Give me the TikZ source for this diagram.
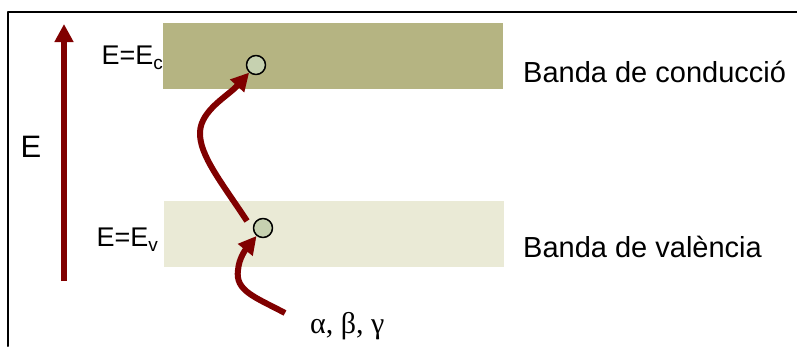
\documentclass[tikz,border=0pt]{standalone}
\usepackage{fontspec}
\setmainfont{Liberation Sans}
\newfontfamily\grecfont{Liberation Serif}
\usetikzlibrary{arrows.meta}
\definecolor{bandac}{RGB}{181,180,130}
\definecolor{bandav}{RGB}{234,234,214}
\definecolor{fletxa}{RGB}{128,0,0}
\definecolor{electro}{RGB}{198,209,176}
\begin{document}
\begin{tikzpicture}[x=1pt, y=-1pt, line cap=round, line join=round,
        banda/.style={draw=none, inner sep=0pt, minimum width=340pt, minimum height=66pt},
        electro/.style={circle, draw=black, line width=1.5pt, fill=electro, inner sep=0pt, minimum size=19pt},
        fletxa/.style={draw=fletxa, line width=6pt, line cap=butt, -{Triangle[length=18pt, width=18pt]}},
        etiq/.style={inner sep=0pt, font=\fontsize{29}{32}\selectfont}]
        \useasboundingbox (0,0) rectangle (797,346);

        % Cornice (solo lato superiore e sinistro)
        \draw[line width=2pt] (797,12) -- (8,12) -- (8,346);

        % Bande di energia
        \node[banda, fill=bandac] (bc) at (333,56) {};
        \node[banda, fill=bandav] (bv) at (334,233.5) {};

        % Asse dell'energia
        \coordinate (ebase) at (64,281);
        \coordinate (ecim) at (64,24);
        \draw[fletxa] (ebase) -- (ecim);
        \node[inner sep=0pt, font=\fontsize{31}{34}\selectfont] (elab) at (31,147) {E};

        % Etichette dei livelli
        \node[inner sep=0pt, anchor=base east, font=\fontsize{27}{29}\selectfont] (ec) at (163,64)
            {E=E\raisebox{-5pt}{\fontsize{19}{20}\selectfont c}};
        \node[inner sep=0pt, anchor=base east, font=\fontsize{27}{29}\selectfont] (ev) at (158,246)
            {E=E\raisebox{-5pt}{\fontsize{19}{20}\selectfont v}};
        \node[etiq, anchor=base west] (lc) at (523,82) {Banda de conducció};
        \node[etiq, anchor=base west] (lv) at (523,257) {Banda de valència};

        % Elettroni
        \node[electro] (cc) at (256,65) {};
        \node[electro] (cv) at (263,228) {};

        % Salto e radiazione incidente
        \coordinate (salt) at (247,221);
        \coordinate (raig) at (285,313);
        \draw[fletxa] (salt) .. controls (222,183) and (199,155) .. (200,132)
            .. controls (201,110) and (228,96) .. (cc);
        \draw[fletxa] (raig) .. controls (255,297) and (235,291) .. (238,270)
            .. controls (239,258) and (246,249) .. (cv);
        \node[inner sep=0pt, anchor=base west, font=\fontsize{30}{32}\selectfont\grecfont] (rad) at (310,333)
            {α, β, γ};
    \end{tikzpicture}
\end{document}
